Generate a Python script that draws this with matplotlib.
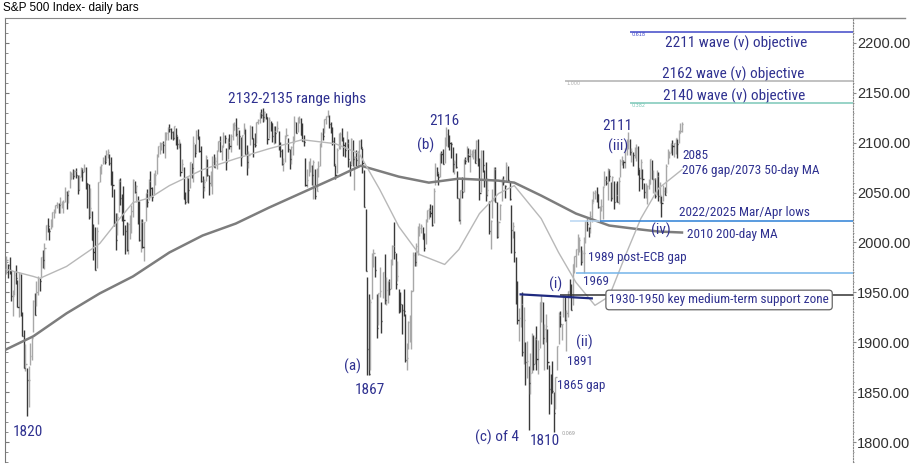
import numpy as np
import matplotlib
matplotlib.use("Agg")
import matplotlib.pyplot as plt
import matplotlib.font_manager as fm
from matplotlib.lines import Line2D
from matplotlib.ticker import MultipleLocator

# S&P 500 daily bars, 26 Sep 2014 - 8 Jun 2016 (one row per month)
highs = [
    1986, 1978, 1985,
    1972, 1952, 1971, 1977, 1962, 1970, 1968, 1930, 1912, 1898, 1874, 1876, 1899, 1905, 1942, 1949, 1961, 1966, 1964, 1985, 1992, 1999, 2018,
    2025, 2015, 2024, 2031, 2034, 2038, 2041, 2040, 2046, 2042, 2043, 2056, 2052, 2053, 2072, 2071, 2074, 2073, 2075,
    2068, 2068, 2076, 2075, 2079, 2076, 2060, 2059, 2055, 2032, 2019, 2016, 2016, 2061, 2077, 2079, 2086, 2088, 2093, 2094, 2089, 2086,
    2072, 2054, 2030, 2030, 2064, 2065, 2049, 2057, 2018, 2021, 2020, 2028, 2038, 2064, 2062, 2058, 2047, 2042, 2024, 2024,
    2021, 2050, 2054, 2064, 2072, 2056, 2070, 2073, 2089, 2097, 2101, 2100, 2102, 2111, 2111, 2116, 2119, 2115, 2112,
    2117, 2115, 2107, 2104, 2100, 2084, 2076, 2051, 2066, 2065, 2081, 2080, 2107, 2099, 2113, 2114, 2107, 2097, 2067, 2064, 2088, 2084,
    2068, 2072, 2087, 2089, 2086, 2093, 2102, 2107, 2098, 2111, 2108, 2095, 2105, 2109, 2109, 2120, 2121, 2125, 2116, 2113, 2106,
    2108, 2120, 2114, 2098, 2092, 2118, 2117, 2105, 2110, 2121, 2124, 2131, 2134, 2135, 2132, 2130, 2126, 2126, 2122, 2120,
    2117, 2117, 2122, 2112, 2101, 2094, 2085, 2108, 2115, 2105, 2094, 2097, 2107, 2127, 2121, 2126, 2127, 2125, 2120, 2108, 2085, 2074,
    2082, 2085, 2078, 2083, 2074, 2075, 2082, 2100, 2111, 2115, 2124, 2127, 2133, 2128, 2121, 2116, 2106, 2078, 2095, 2110, 2111, 2115,
    2106, 2101, 2112, 2104, 2082, 2105, 2103, 2087, 2093, 2092, 2103, 2104, 2095, 2073, 2034, 1965, 1948, 1943, 1989, 1993, 1986,
    1948, 1949, 1975, 1940, 1970, 1988, 1965, 1961, 1963, 1983, 1997, 2021, 1989, 1981, 1953, 1950, 1938, 1953, 1928, 1899, 1921,
    1927, 1952, 1990, 1990, 1999, 2017, 2020, 2019, 2016, 2010, 2024, 2033, 2035, 2039, 2038, 2055, 2080, 2076, 2070, 2090, 2092, 2094,
    2106, 2116, 2114, 2108, 2101, 2096, 2083, 2090, 2072, 2045, 2053, 2066, 2084, 2086, 2097, 2095, 2094, 2093, 2094, 2094,
    2103, 2104, 2085, 2093, 2093, 2073, 2081, 2065, 2042, 2023, 2054, 2076, 2076, 2041, 2022, 2039, 2065, 2067, 2058, 2081, 2077, 2062,
    2038, 2021, 2012, 1985, 1961, 1934, 1947, 1950, 1935, 1900, 1901, 1876, 1889, 1909, 1907, 1905, 1916, 1902, 1940,
    1947, 1940, 1918, 1928, 1913, 1877, 1868, 1881, 1850, 1865, 1896, 1930, 1931, 1918, 1947, 1945, 1932, 1951, 1963, 1958,
    1978, 1986, 1993, 2009, 2006, 1996, 1992, 2006, 2022, 2024, 2016, 2032, 2044, 2052, 2053, 2056, 2049, 2037, 2044, 2057, 2072, 2067,
    2075, 2074, 2061, 2067, 2062, 2060, 2062, 2066, 2084, 2087, 2083, 2095, 2104, 2111, 2104, 2095, 2091, 2096, 2099, 2097, 2074,
    2084, 2074, 2060, 2060, 2058, 2064, 2084, 2083, 2073, 2065, 2073, 2071, 2061, 2047, 2058, 2056, 2079, 2094, 2092, 2100, 2103,
    2100, 2105, 2104, 2113, 2120, 2121,
]
lows = [
    1968, 1964, 1968,
    1941, 1926, 1947, 1958, 1935, 1925, 1926, 1906, 1874, 1871, 1826, 1835, 1877, 1882, 1910, 1927, 1936, 1947, 1951, 1964, 1974, 1973, 2002,
    2011, 2002, 2014, 2016, 2025, 2030, 2035, 2030, 2030, 2035, 2030, 2041, 2034, 2040, 2055, 2064, 2064, 2066, 2065,
    2049, 2053, 2066, 2062, 2071, 2054, 2035, 2024, 2027, 2002, 1982, 1972, 1974, 2019, 2061, 2069, 2079, 2079, 2082, 2085, 2078, 2058,
    2046, 2017, 1992, 2008, 2031, 2038, 2022, 2008, 1988, 1991, 1988, 2004, 2010, 2026, 2050, 2041, 2019, 2001, 1990, 1994,
    1981, 2022, 2036, 2043, 2047, 2042, 2048, 2058, 2069, 2086, 2089, 2093, 2090, 2085, 2103, 2103, 2111, 2104, 2103,
    2104, 2098, 2094, 2095, 2067, 2072, 2044, 2039, 2041, 2040, 2055, 2065, 2061, 2086, 2091, 2104, 2091, 2061, 2045, 2052, 2062, 2067,
    2048, 2057, 2049, 2076, 2075, 2074, 2092, 2091, 2083, 2096, 2100, 2073, 2084, 2094, 2091, 2103, 2113, 2107, 2098, 2094, 2077,
    2087, 2109, 2089, 2068, 2075, 2098, 2104, 2086, 2096, 2100, 2119, 2120, 2125, 2121, 2122, 2124, 2099, 2105, 2112, 2101,
    2099, 2100, 2111, 2093, 2086, 2078, 2072, 2081, 2106, 2091, 2074, 2079, 2088, 2101, 2110, 2111, 2120, 2108, 2102, 2097, 2057, 2056,
    2067, 2071, 2058, 2044, 2044, 2052, 2066, 2077, 2096, 2103, 2110, 2119, 2126, 2115, 2110, 2098, 2077, 2064, 2070, 2094, 2094, 2102,
    2087, 2086, 2096, 2076, 2067, 2079, 2077, 2053, 2077, 2077, 2079, 2094, 2070, 2036, 1971, 1867, 1867, 1872, 1943, 1975, 1965,
    1904, 1917, 1945, 1909, 1944, 1938, 1937, 1939, 1947, 1953, 1977, 1983, 1953, 1961, 1929, 1930, 1908, 1926, 1880, 1872, 1893,
    1900, 1893, 1951, 1976, 1976, 1987, 2007, 2010, 2004, 1991, 1998, 2021, 2024, 2026, 2017, 2020, 2058, 2067, 2058, 2066, 2080, 2079,
    2080, 2097, 2096, 2093, 2085, 2071, 2069, 2075, 2045, 2022, 2019, 2045, 2051, 2079, 2083, 2081, 2071, 2086, 2084, 2080,
    2082, 2077, 2043, 2051, 2071, 2056, 2042, 2047, 2009, 1993, 2025, 2042, 2041, 2005, 2006, 2023, 2042, 2058, 2045, 2061, 2062, 2043,
    1989, 2005, 1980, 1938, 1918, 1901, 1915, 1886, 1878, 1857, 1864, 1812, 1848, 1869, 1872, 1878, 1872, 1868, 1894,
    1920, 1898, 1872, 1900, 1873, 1828, 1838, 1849, 1810, 1833, 1872, 1898, 1915, 1902, 1925, 1921, 1891, 1925, 1945, 1932,
    1937, 1969, 1975, 1987, 1990, 1977, 1980, 1969, 1999, 2012, 2006, 2010, 2021, 2041, 2044, 2041, 2035, 2023, 2032, 2024, 2057, 2058,
    2043, 2062, 2042, 2044, 2034, 2041, 2041, 2039, 2066, 2078, 2075, 2075, 2088, 2094, 2088, 2081, 2077, 2085, 2082, 2068, 2052,
    2064, 2054, 2045, 2045, 2039, 2054, 2059, 2064, 2050, 2045, 2048, 2042, 2040, 2026, 2042, 2048, 2050, 2079, 2085, 2090, 2088,
    2086, 2089, 2085, 2100, 2110, 2111,
]
closes = [
    1982, 1977, 1972,
    1946, 1946, 1967, 1964, 1935, 1968, 1928, 1906, 1874, 1878, 1862, 1862, 1886, 1904, 1941, 1927, 1950, 1964, 1961, 1985, 1982, 1994, 2018,
    2017, 2012, 2023, 2031, 2032, 2038, 2039, 2038, 2039, 2039, 2041, 2051, 2048, 2052, 2064, 2069, 2067, 2072, 2068,
    2053, 2066, 2074, 2071, 2075, 2060, 2059, 2026, 2035, 2002, 1990, 1972, 2012, 2061, 2071, 2078, 2082, 2081, 2089, 2091, 2080, 2059,
    2058, 2021, 2003, 2026, 2062, 2045, 2029, 2023, 2012, 1992, 2019, 2023, 2032, 2063, 2051, 2057, 2029, 2002, 2021, 1995,
    2021, 2050, 2041, 2062, 2055, 2046, 2068, 2068, 2088, 2097, 2100, 2100, 2098, 2110, 2110, 2115, 2114, 2111, 2105,
    2117, 2108, 2099, 2101, 2071, 2079, 2044, 2041, 2066, 2053, 2081, 2075, 2100, 2090, 2108, 2104, 2092, 2062, 2056, 2061, 2086, 2068,
    2060, 2067, 2081, 2076, 2082, 2092, 2102, 2092, 2096, 2107, 2105, 2081, 2101, 2097, 2107, 2113, 2118, 2109, 2115, 2107, 2086,
    2108, 2115, 2089, 2081, 2088, 2116, 2105, 2099, 2098, 2121, 2123, 2130, 2128, 2126, 2131, 2126, 2104, 2123, 2120, 2107,
    2112, 2110, 2115, 2095, 2092, 2079, 2080, 2105, 2108, 2094, 2084, 2096, 2100, 2121, 2110, 2122, 2124, 2108, 2102, 2101, 2058, 2063,
    2077, 2077, 2068, 2081, 2047, 2052, 2077, 2099, 2109, 2107, 2124, 2127, 2128, 2119, 2115, 2102, 2079, 2068, 2093, 2109, 2109, 2104,
    2098, 2093, 2100, 2084, 2078, 2104, 2084, 2086, 2083, 2092, 2102, 2096, 2080, 2036, 1971, 1893, 1868, 1940, 1988, 1989, 1972,
    1914, 1949, 1951, 1921, 1970, 1942, 1952, 1961, 1953, 1979, 1996, 1990, 1958, 1966, 1943, 1938, 1932, 1931, 1882, 1884, 1920,
    1924, 1951, 1987, 1980, 1996, 2014, 2015, 2017, 2004, 1994, 2023, 2033, 2033, 2030, 2018, 2052, 2075, 2071, 2066, 2090, 2089, 2079,
    2104, 2109, 2102, 2100, 2099, 2079, 2081, 2076, 2045, 2023, 2053, 2051, 2084, 2082, 2089, 2087, 2089, 2089, 2091, 2080,
    2102, 2080, 2050, 2092, 2078, 2063, 2048, 2053, 2012, 2022, 2043, 2074, 2041, 2006, 2021, 2038, 2064, 2061, 2057, 2078, 2063, 2044,
    2013, 2017, 1990, 1943, 1922, 1924, 1938, 1890, 1922, 1880, 1881, 1859, 1869, 1907, 1878, 1903, 1883, 1893, 1940,
    1940, 1904, 1913, 1916, 1880, 1853, 1852, 1851, 1829, 1865, 1896, 1927, 1918, 1918, 1946, 1922, 1929, 1951, 1948, 1932,
    1978, 1986, 1993, 1999, 2002, 1980, 1989, 1989, 2022, 2019, 2015, 2027, 2040, 2050, 2051, 2049, 2036, 2036, 2037, 2056, 2063, 2060,
    2073, 2067, 2045, 2066, 2041, 2048, 2041, 2062, 2082, 2082, 2081, 2094, 2100, 2102, 2091, 2092, 2088, 2091, 2095, 2075, 2065,
    2081, 2064, 2051, 2051, 2057, 2059, 2084, 2064, 2064, 2047, 2067, 2047, 2048, 2040, 2052, 2048, 2077, 2090, 2090, 2099, 2097,
    2100, 2105, 2099, 2110, 2112, 2119,
]

# moving averages (bar number, level)
ma200_bar = [0, 17, 38, 59, 80, 103, 124, 145, 166, 187, 208, 224, 248, 267, 286, 311, 321, 338, 360, 381, 401, 412, 427]
ma200_val = [1893, 1906, 1929, 1949, 1966, 1990, 2007, 2019, 2035, 2050, 2065, 2077, 2066, 2060, 2064, 2062, 2060, 2047, 2029, 2017, 2013, 2011, 2010]
ma50_bar = [0, 17, 21, 38, 59, 70, 80, 91, 103, 124, 145, 166, 187, 208, 223, 236, 248, 261, 277, 286, 299, 311, 321, 338, 349, 360, 372, 381, 391, 401, 412, 427]
ma50_val = [1973, 1966, 1964, 1976, 1999, 2021, 2040, 2045, 2057, 2073, 2084, 2094, 2103, 2099, 2089, 2053, 2016, 1988, 1978, 1993, 2029, 2049, 2057, 2024, 1990, 1960, 1937, 1946, 1986, 2024, 2054, 2073]

# horizontal levels: value, first bar, colour
levels = [2211, 2162, 2140, 2022, 1969, 1947]
level_start = [394, 353, 394, 375, 360, 350]
level_colors = ["#4048c8", "#b0b0b0", "#7cc8b8", "#2c80d6", "#74b4ea", "#333333"]
fib_labels = ["0.618", "1.000", "0.382"]
price_ticks = [1800, 1850, 1900, 1950, 2000, 2050, 2100, 2150, 2200]

navy = "#2f3190"

# the labels in the original are set in a narrow face; use one if there is any
narrow_name, narrow_stretch = None, "normal"
for pref in ["Liberation Sans Narrow", "Arial Narrow", "Roboto Condensed", "Open Sans Condensed",
             "DejaVu Sans Condensed", "Noto Sans Condensed"]:
    if any(f.name == pref for f in fm.fontManager.ttflist):
        narrow_name = pref
        break
if narrow_name is None:
    for f in fm.fontManager.ttflist:
        if str(f.stretch) in ("condensed", "semi-condensed") and str(f.style) == "normal" \
                and f.weight in (400, "normal", "regular", "book"):
            narrow_name, narrow_stretch = f.name, str(f.stretch)
            break
if narrow_name is not None:
    lab_font = dict(family=[narrow_name, "DejaVu Sans"], fontstretch=narrow_stretch)
    big_size, small_size = 11, 9.5
else:
    lab_font = dict(family=["Liberation Sans", "DejaVu Sans"])
    big_size, small_size = 9.3, 8

fig = plt.figure(figsize=(9.17, 4.73), dpi=100)
ax = fig.add_axes([5 / 917, 11 / 473, 848 / 917, 444 / 473])
ax.set_xlim(-0.9, 535.1)
ax.set_ylim(1780, 2225)

# bars: dark for down days, light for up days, with a close tick
bars = np.arange(len(closes))
c = np.array(closes)
up = np.concatenate([[True], c[1:] >= c[:-1]])
cols = np.where(up, "#a8a8a8", "#3a3a3a")
ax.vlines(bars, lows, highs, colors=cols, lw=1.0, zorder=2)
ax.hlines(closes, bars, bars + 0.7, colors=cols, lw=1.0, zorder=2)

ax.plot(ma200_bar, ma200_val, color="#7d7d7d", lw=1.8, zorder=3)
ax.plot(ma50_bar, ma50_val, color="#b8b8b8", lw=1.0, zorder=3)

for lv, st, col in zip(levels, level_start, level_colors):
    ax.hlines(lv, st, 535.1, colors=col, lw=1.1, zorder=4)
ax.hlines(levels[3], 356, level_start[3], colors="#b8d6f2", lw=1.1, zorder=4)
ax.plot([325, 370], [1948, 1944], color="#1f2a80", lw=1.6, zorder=5)

# small fibonacci ratio tags
for lab, lv, st, col in zip(fib_labels, levels[:3], level_start[:3], level_colors[:3]):
    ax.text(st + 1, lv - 3, lab, fontsize=3.5, color=col, va="center", ha="left")
ax.text(351, 1809, "0.069", fontsize=3.5, color="#999999", va="center")

# wave / level labels
big = dict(color=navy, fontsize=big_size, va="center", **lab_font)
small = dict(color=navy, fontsize=small_size, va="center", **lab_font)
ax.text(184, 2144, "2132-2135 range highs", ha="center", **big)
ax.text(277, 2122, "2116", ha="center", **big)
ax.text(265, 2097, "(b)", ha="center", **big)
ax.text(219, 1876, "(a)", ha="center", **big)
ax.text(230, 1852, "1867", ha="center", **big)
ax.text(13.6, 1810, "1820", ha="center", **big)
ax.text(310, 1805, "(c) of 4", ha="center", **big)
ax.text(340, 1801, "1810", ha="center", **big)
ax.text(386, 2117, "2111", ha="center", **big)
ax.text(386.6, 2096, "(iii)", ha="center", **big)
ax.text(413.8, 2012.5, "(iv)", ha="center", **big)
ax.text(347.4, 1958.4, "(i)", ha="center", **big)
ax.text(365, 1900, "(ii)", ha="center", **big)
ax.text(416.3, 2200, "2211 wave (v) objective", ha="left", **big)
ax.text(414.4, 2169, "2162 wave (v) objective", ha="left", **big)
ax.text(415, 2146, "2140 wave (v) objective", ha="left", **big)

ax.text(427, 2087, "2085", ha="left", **small)
ax.text(427, 2072, "2076 gap/2073 50-day MA", ha="left", **small)
ax.text(425, 2029.6, "2022/2025 Mar/Apr lows", ha="left", **small)
ax.text(430.2, 2008.5, "2010 200-day MA", ha="left", **small)
ax.text(367.6, 1984.5, "1989 post-ECB gap", ha="left", **small)
ax.text(364.4, 1961.4, "1969", ha="left", **small)
ax.text(362.6, 1881, "1891", ha="center", **small)
ax.text(348, 1857, "1865 gap", ha="left", **small)
ax.text(381, 1942.4, "1930-1950 key medium-term support zone", ha="left",
        bbox=dict(boxstyle="round,pad=0.25", fc="white", ec="#666666", lw=0.9),
        zorder=6, **small)

# axes: left/top solid, right dotted, price scale on the right
ax.spines["bottom"].set_visible(False)
ax.spines["left"].set_color("#777777")
ax.spines["top"].set_color("#888888")
ax.spines["right"].set_color("#888888")
ax.spines["right"].set_linestyle((0, (1, 1.5)))
ax.set_xticks([])
ax.yaxis.set_major_locator(MultipleLocator(50))
ax.yaxis.set_minor_locator(MultipleLocator(10))
ax.tick_params(axis="y", which="both", direction="in", left=True, right=False,
               labelleft=False, color="#777777")
ax.tick_params(axis="y", which="major", length=3)
ax.tick_params(axis="y", which="minor", length=2)

ax2 = ax.twinx()
ax2.set_position(ax.get_position())
ax2.set_ylim(ax.get_ylim())
ax2.yaxis.set_minor_locator(MultipleLocator(10))
ax2.set_yticks(price_ticks)
ax2.set_yticklabels([f"{v:.2f}" for v in price_ticks], family=["Liberation Sans", "DejaVu Sans"],
                    color="#303030")
ax2.tick_params(axis="y", which="both", direction="out", color="#888888", labelsize=10.5, pad=1)
ax2.tick_params(axis="y", which="major", length=2)
ax2.tick_params(axis="y", which="minor", length=1)
for s in ax2.spines.values():
    s.set_visible(False)

fig.add_artist(Line2D([853 / 917, 905 / 917], [1 - 18 / 473] * 2, color="#888888", lw=1))
fig.text(3 / 917, 1 - 8 / 473, "S&P 500 Index- daily bars", fontsize=8.5, va="center", ha="left",
         family=["Liberation Sans", "DejaVu Sans"])

fig.savefig("out.png", dpi=100)
